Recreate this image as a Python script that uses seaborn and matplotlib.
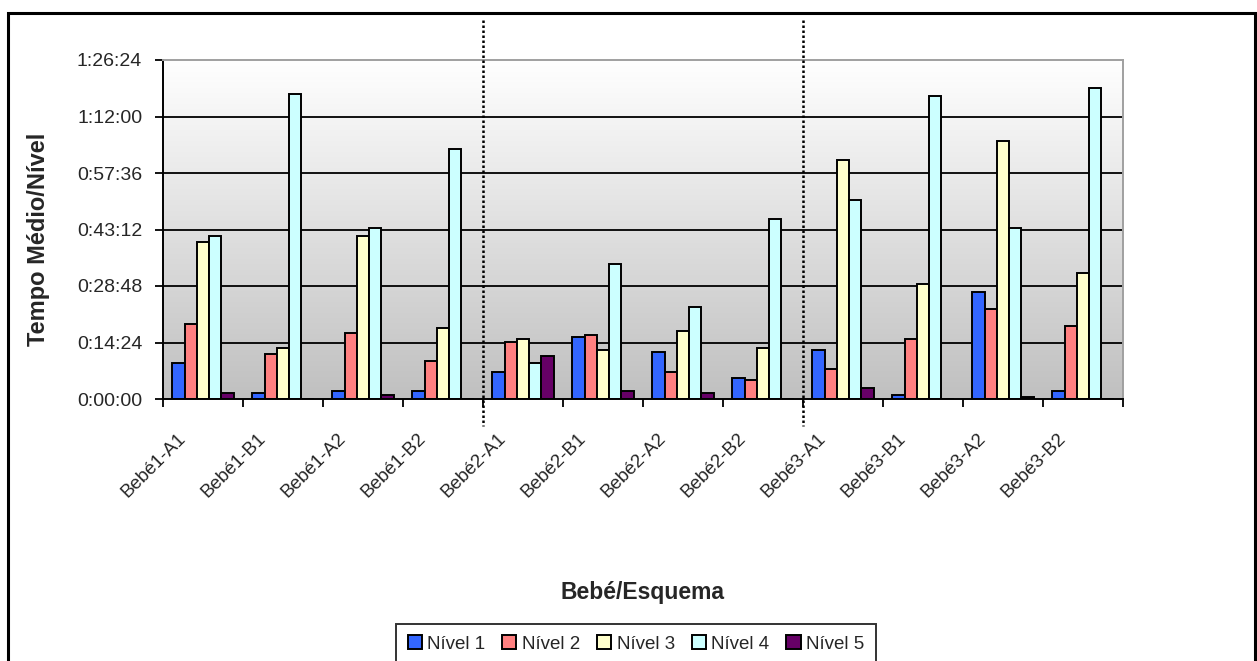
import numpy as np
import pandas as pd
import seaborn as sns
import matplotlib.pyplot as plt
from matplotlib.ticker import FuncFormatter
from matplotlib.patches import Rectangle
from matplotlib.colors import LinearSegmentedColormap
import matplotlib.transforms as mtransforms

# dados (minutos por nível)
esquemas = ['Bebé1-A1', 'Bebé1-B1', 'Bebé1-A2', 'Bebé1-B2',
            'Bebé2-A1', 'Bebé2-B1', 'Bebé2-A2', 'Bebé2-B2',
            'Bebé3-A1', 'Bebé3-B1', 'Bebé3-A2', 'Bebé3-B2']
nivel_1 = [9.3, 1.6, 2.1, 2.1, 7.0, 15.9, 12.0, 5.4, 12.5, 1.0, 27.3, 2.1]
nivel_2 = [19.1, 11.5, 16.9, 9.8, 14.6, 16.3, 7.0, 4.9, 7.6, 15.2, 22.9, 18.6]
nivel_3 = [39.9, 13.1, 41.5, 18.0, 15.2, 12.5, 17.4, 13.1, 60.8, 29.4, 65.7, 32.2]
nivel_4 = [41.5, 77.8, 43.7, 63.6, 9.1, 34.5, 23.5, 45.9, 50.8, 77.2, 43.7, 79.3]
nivel_5 = [1.6, 0.0, 1.0, 0.0, 11.0, 2.1, 1.6, 0.0, 2.7, 0.0, 0.4, 0.0]
niveis = ['Nível 1', 'Nível 2', 'Nível 3', 'Nível 4', 'Nível 5']
cores = ['#3366FF', '#FF8080', '#FFFFCC', '#CCFFFF', '#660066']
y_ticks = [0, 864, 1728, 2592, 3456, 4320, 5184]  # segundos
separadores = [3.5, 7.5]

rows = []
for nivel, vals in zip(niveis, [nivel_1, nivel_2, nivel_3, nivel_4, nivel_5]):
    for esq, v in zip(esquemas, vals):
        rows.append({'Esquema': esq, 'Nivel': nivel, 'Segundos': v * 60})
df = pd.DataFrame(rows)

sns.set_theme(style='white')
plt.rcParams['font.family'] = ['Liberation Sans', 'DejaVu Sans']

W, H, DPI = 1257, 661, 100
fig = plt.figure(figsize=(W / DPI, H / DPI), dpi=DPI)
ax = fig.add_axes([163 / W, (H - 399) / H, 960 / W, 339 / H])

# fundo em degradê
grad = np.linspace(1.0, 0.0, 256).reshape(-1, 1)
ax.imshow(grad, cmap=LinearSegmentedColormap.from_list('g', ['#c0c0c0', '#ffffff']),
          aspect='auto', extent=[0, 1, 0, 1], transform=ax.transAxes, zorder=0)

for t in y_ticks[1:-1]:
    ax.axhline(t, color='black', lw=1.3, zorder=0.5)

sns.barplot(data=df, x='Esquema', y='Segundos', hue='Nivel', hue_order=niveis,
            palette=dict(zip(niveis, cores)), width=0.77, edgecolor='black',
            linewidth=1.4, saturation=1, ax=ax, zorder=2)

ax.set_xlim(-0.5, len(esquemas) - 0.5)
ax.set_ylim(y_ticks[0], y_ticks[-1])
ax.set_yticks(y_ticks)
ax.yaxis.set_major_formatter(FuncFormatter(
    lambda s, p: f"{int(s // 3600)}:{int(s % 3600 // 60):02d}:{int(s % 60):02d}"))
ax.tick_params(axis='y', direction='out', length=6, width=1.3, color='black',
               pad=9, labelsize=14, left=True)

ax.set_xticks(np.arange(len(esquemas) + 1) - 0.5)
ax.set_xticklabels([])
ax.set_xticks(np.arange(len(esquemas)), minor=True)
ax.set_xticklabels(esquemas, minor=True, rotation=45, ha='right', va='top', fontsize=13.5)
ax.tick_params(axis='x', which='major', direction='out', length=6, width=1.3,
               color='black', bottom=True)
ax.tick_params(axis='x', which='minor', length=0, pad=22)
offset = mtransforms.ScaledTranslation(-14 / DPI, 0, fig.dpi_scale_trans)
for lab in ax.get_xticklabels(minor=True):
    lab.set_transform(lab.get_transform() + offset)

ax.set_xlabel('')
ax.set_ylabel('')
for side in ['left', 'bottom']:
    ax.spines[side].set_color('black')
    ax.spines[side].set_linewidth(1.4)
for side in ['top', 'right']:
    ax.spines[side].set_color('#a0a0a0')
    ax.spines[side].set_linewidth(1.4)

# linhas pontilhadas entre bebés
trans = mtransforms.blended_transform_factory(ax.transData, ax.transAxes)
for xs in separadores:
    ax.plot([xs, xs], [1.118, -0.08], transform=trans, color='black', lw=1.8,
            linestyle=(0, (1, 1)), dash_capstyle='butt', clip_on=False, zorder=3)

fig.text(39 / W, 1 - 239 / H, 'Tempo Médio/Nível', rotation=90, ha='center', va='center',
         fontsize=17, fontweight='bold')
fig.text(643 / W, 1 - 593 / H, 'Bebé/Esquema', ha='center', va='center',
         fontsize=16.5, fontweight='bold')

handles, labels = ax.get_legend_handles_labels()
ax.get_legend().remove()
leg = fig.legend(handles, labels, loc='upper center', bbox_to_anchor=(636 / W, 1 - 624 / H),
                 ncol=5, fontsize=13.5, frameon=True, fancybox=False, shadow=False,
                 handlelength=0.75, handleheight=0.75, handletextpad=0.3,
                 columnspacing=0.9, borderpad=0.6, borderaxespad=0)
leg.get_frame().set_edgecolor('black')
leg.get_frame().set_linewidth(1.4)

fig.patches.append(Rectangle((8 / W, -0.05), (1255 - 8) / W, 1.05 - 13 / H,
                             transform=fig.transFigure, fill=False, edgecolor='black',
                             lw=2.2, zorder=0))

fig.savefig('out.png', dpi=DPI, facecolor='white')
